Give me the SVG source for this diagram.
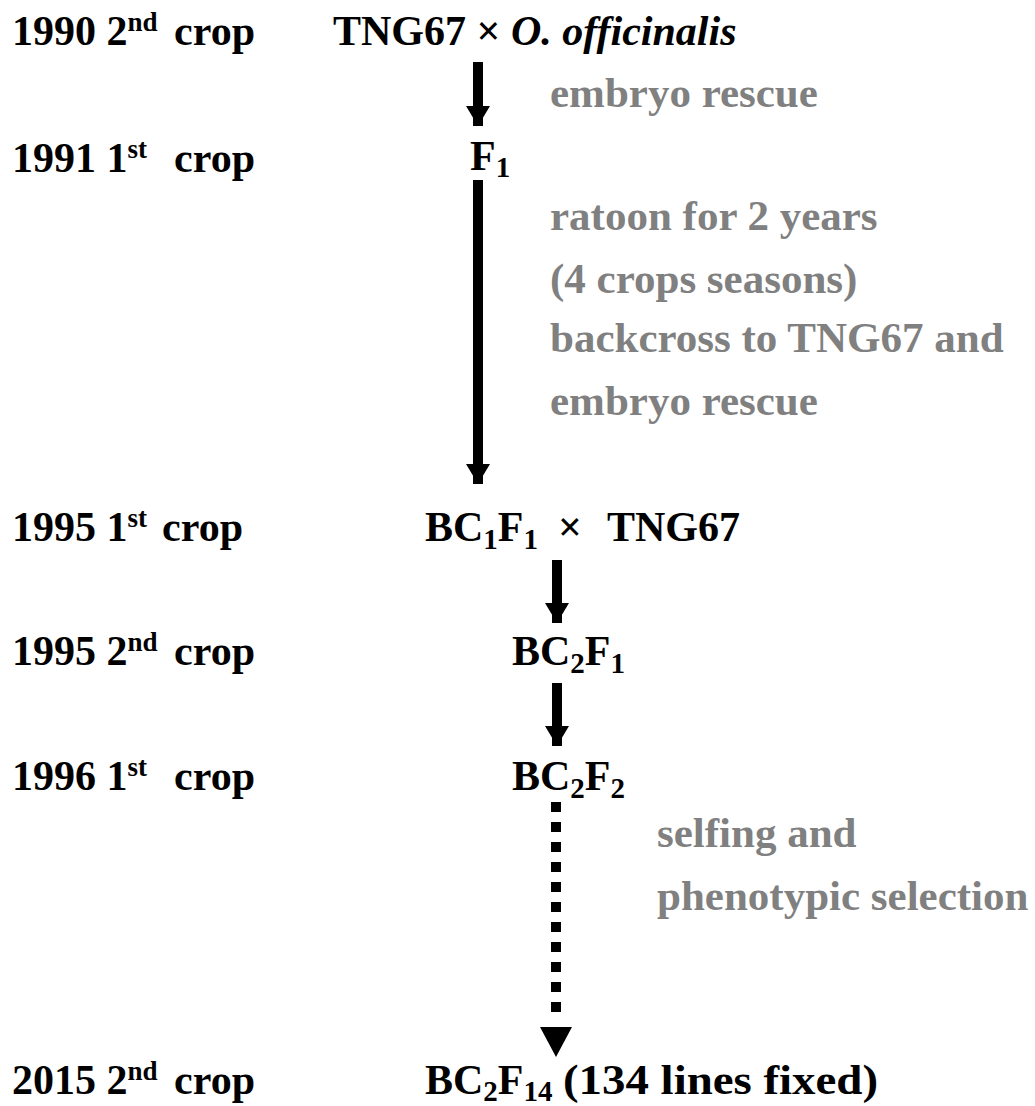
<svg xmlns="http://www.w3.org/2000/svg" width="1035" height="1106" viewBox="0 0 1035 1106">
<style>
text{font-family:"Liberation Serif","Times New Roman",serif;font-weight:bold;font-size:42px;fill:#000}
.g{fill:#808080;font-size:43px}
.it{font-style:italic}
.sub{font-size:29px}
.sup{font-size:27px}
.shaft{stroke:#000;stroke-width:10;fill:none}
.dots{stroke:#000;stroke-width:10;stroke-dasharray:10 10;fill:none}
</style>
<defs>
<marker id="ah" markerUnits="userSpaceOnUse" markerWidth="22" markerHeight="24" refX="20" refY="12" orient="auto">
<path d="M0,0 L20,12 L0,24 Z" fill="#000"/>
</marker>
</defs>
<rect width="1035" height="1106" fill="#fff"/>

<g id="connectors">
<line class="shaft" x1="478" y1="62" x2="478" y2="126" marker-end="url(#ah)"/>
<line class="shaft" x1="478" y1="180" x2="478" y2="484" marker-end="url(#ah)"/>
<line class="shaft" x1="557" y1="560" x2="557" y2="623" marker-end="url(#ah)"/>
<line class="shaft" x1="557" y1="683" x2="557" y2="746" marker-end="url(#ah)"/>
<line class="dots" x1="556" y1="802" x2="556" y2="1022"/>
<path d="M540,1027 L572,1027 L556,1057 Z" fill="#000"/>
</g>

<g id="year-1990">
<text x="12" y="45">1990 2<tspan class="sup" dy="-14">nd</tspan></text>
<text x="255" y="45" text-anchor="end">crop</text>
</g>
<g id="year-1991">
<text x="12" y="172">1991 1<tspan class="sup" dy="-14">st</tspan></text>
<text x="255" y="172" text-anchor="end">crop</text>
</g>
<g id="year-1995a">
<text x="12" y="541">1995 1<tspan class="sup" dy="-14">st</tspan></text>
<text x="243" y="541" text-anchor="end">crop</text>
</g>
<g id="year-1995b">
<text x="12" y="665">1995 2<tspan class="sup" dy="-14">nd</tspan></text>
<text x="255" y="665" text-anchor="end">crop</text>
</g>
<g id="year-1996">
<text x="12" y="790">1996 1<tspan class="sup" dy="-14">st</tspan></text>
<text x="255" y="790" text-anchor="end">crop</text>
</g>
<g id="year-2015">
<text x="12" y="1094">2015 2<tspan class="sup" dy="-14">nd</tspan></text>
<text x="255" y="1094" text-anchor="end">crop</text>
</g>

<g id="node-cross">
<text x="333" y="45">TNG67 × <tspan class="it">O. officinalis</tspan></text>
</g>
<g id="node-F1">
<text x="470" y="170">F<tspan class="sub" dy="7">1</tspan></text>
</g>
<g id="node-BC1F1">
<text x="425" y="541">BC<tspan class="sub" dy="8">1</tspan><tspan dy="-8">F</tspan><tspan class="sub" dy="8">1</tspan><tspan dy="-8" x="558">×</tspan><tspan x="607">TNG67</tspan></text>
</g>
<g id="node-BC2F1">
<text x="512" y="665">BC<tspan class="sub" dy="8">2</tspan><tspan dy="-8">F</tspan><tspan class="sub" dy="8">1</tspan></text>
</g>
<g id="node-BC2F2">
<text x="512" y="790">BC<tspan class="sub" dy="8">2</tspan><tspan dy="-8">F</tspan><tspan class="sub" dy="8">2</tspan></text>
</g>
<g id="node-BC2F14">
<text x="425" y="1094">BC<tspan class="sub" dy="7">2</tspan><tspan dy="-7">F</tspan><tspan class="sub" dy="7">14</tspan></text>
<text x="563" y="1094" textLength="315" lengthAdjust="spacingAndGlyphs">(134 lines fixed)</text>
</g>

<g id="annotations">
<text class="g" x="550" y="107">embryo rescue</text>
<text class="g" x="550" y="230">ratoon for 2 years</text>
<text class="g" x="550" y="293">(4 crops seasons)</text>
<text class="g" x="550" y="352">backcross to TNG67 and</text>
<text class="g" x="550" y="415">embryo rescue</text>
<text class="g" x="657" y="847">selfing and</text>
<text class="g" x="657" y="910">phenotypic selection</text>
</g>
</svg>
